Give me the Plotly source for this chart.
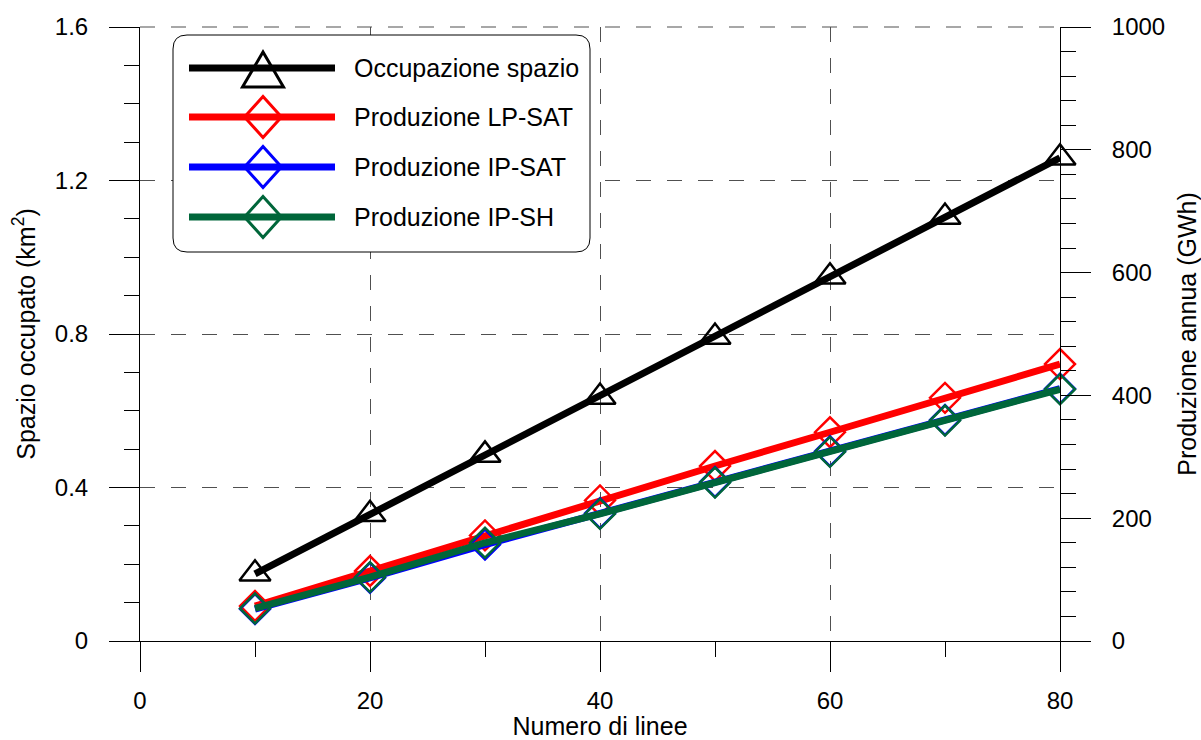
import plotly.graph_objects as go

# ---- data ----
linee = [10, 20, 30, 40, 50, 60, 70, 80]
occupazione_km2 = [0.175, 0.330, 0.485, 0.636, 0.792, 0.949, 1.105, 1.259]
prod_lp_sat = [57, 114, 172, 229, 285, 340, 396, 451]
prod_ip_sat = [52, 103, 157, 208, 259, 309, 360, 411]
prod_ip_sh = [53, 104, 160, 207, 258, 308, 359, 410]

names = ["Occupazione spazio", "Produzione LP-SAT", "Produzione IP-SAT", "Produzione IP-SH"]
colors = ["#000000", "#FF0000", "#0000FF", "#00663A"]

FONT = "Liberation Sans, Arial, sans-serif"
W, H = 1201, 740
L, R, T, B = 140, 1060, 27, 641
GRID_COLOR, GRID_WIDTH, GRID_DASH = "#505050", 1.2, "15px,16px"


def px(x):
    return (x - L) / (R - L)


def py(y):
    return (B - y) / (B - T)


fig = go.Figure()

fig.add_trace(go.Scatter(
    x=linee, y=occupazione_km2, name=names[0], mode="lines+markers",
    line=dict(color=colors[0], width=7),
    marker=dict(symbol="triangle-up-open", size=27, color=colors[0], line=dict(width=2.5)),
    cliponaxis=False, yaxis="y"))

for vals, nm, col in [(prod_lp_sat, names[1], colors[1]),
                      (prod_ip_sat, names[2], colors[2]),
                      (prod_ip_sh, names[3], colors[3])]:
    fig.add_trace(go.Scatter(
        x=linee, y=vals, name=nm, mode="lines+markers",
        line=dict(color=col, width=7),
        marker=dict(symbol="diamond-open", size=23, color=col, line=dict(width=2.5)),
        cliponaxis=False, yaxis="y2"))

grid = dict(showgrid=True, gridcolor=GRID_COLOR, gridwidth=GRID_WIDTH, griddash=GRID_DASH)
tickstyle = dict(ticks="outside", ticklen=30, tickwidth=1, tickcolor="#000000",
                 showline=True, linecolor="#000000", linewidth=1, zeroline=False,
                 tickfont=dict(family=FONT, size=24, color="#000000"))

fig.update_layout(
    width=W, height=H,
    margin=dict(l=L, r=W - R, t=T, b=H - B, autoexpand=False),
    paper_bgcolor="white", plot_bgcolor="white",
    showlegend=False,
    font=dict(family=FONT, color="#000000"),
    xaxis=dict(range=[0, 80], tickvals=[0, 20, 40, 60, 80],
               minor=dict(dtick=10, ticklen=15, ticks="outside", tickcolor="#000000", showgrid=False),
               title=dict(text="Numero di linee", font=dict(family=FONT, size=25), standoff=2),
               ticklabelstandoff=8,
               **grid, **tickstyle),
    yaxis=dict(range=[0, 1.6], tickvals=[0, 0.4, 0.8, 1.2, 1.6], ticktext=["0", "0.4", "0.8", "1.2", "1.6"],
               minor=dict(dtick=0.1, ticklen=15, ticks="outside", tickcolor="#000000", showgrid=False),
               title=dict(text="Spazio occupato (km<sup>2</sup>)", font=dict(family=FONT, size=25), standoff=12),
               ticklabelstandoff=16,
               **grid, **tickstyle),
    yaxis2=dict(range=[0, 1000], tickvals=[0, 200, 400, 600, 800, 1000], overlaying="y", side="right",
                minor=dict(dtick=40, ticklen=15, ticks="outside", tickcolor="#000000", showgrid=False),
                title=dict(text="Produzione annua (GWh)", font=dict(family=FONT, size=25), standoff=14),
                ticklabelstandoff=16, showgrid=False,
                **tickstyle),
)

# top grid line at the upper edge of the plot area (plotly skips the edge gridline)
fig.add_shape(type="line", xref="paper", yref="paper", x0=0, x1=1, y0=1, y1=1,
              line=dict(color=GRID_COLOR, width=GRID_WIDTH, dash=GRID_DASH), layer="below")

# ---- custom legend (rounded box) ----
x0, x1, y0, y1, r = 173, 590, 35, 252, 14
path = (f"M {px(x0 + r)},{py(y0)} L {px(x1 - r)},{py(y0)} Q {px(x1)},{py(y0)} {px(x1)},{py(y0 + r)} "
        f"L {px(x1)},{py(y1 - r)} Q {px(x1)},{py(y1)} {px(x1 - r)},{py(y1)} "
        f"L {px(x0 + r)},{py(y1)} Q {px(x0)},{py(y1)} {px(x0)},{py(y1 - r)} "
        f"L {px(x0)},{py(y0 + r)} Q {px(x0)},{py(y0)} {px(x0 + r)},{py(y0)} Z")
fig.add_shape(type="path", path=path, xref="paper", yref="paper",
              line=dict(color="#000000", width=1), fillcolor="white", layer="above")

rows = [68, 117, 167, 217]
mx = 263
for i, (nm, col, yr) in enumerate(zip(names, colors, rows)):
    fig.add_shape(type="line", xref="paper", yref="paper",
                  x0=px(189), x1=px(335), y0=py(yr), y1=py(yr),
                  line=dict(color=col, width=7), layer="above")
    if i == 0:
        mp = (f"M {px(mx)},{py(52)} L {px(mx + 20.5)},{py(87)} L {px(mx - 20.5)},{py(87)} Z")
    else:
        mp = (f"M {px(mx)},{py(yr - 20.5)} L {px(mx + 18.5)},{py(yr)} L {px(mx)},{py(yr + 20.5)} "
              f"L {px(mx - 18.5)},{py(yr)} Z")
    fig.add_shape(type="path", path=mp, xref="paper", yref="paper",
                  line=dict(color=col, width=3), layer="above")
    fig.add_annotation(text=nm, x=px(352), y=py(yr), xref="paper", yref="paper",
                       xanchor="left", yanchor="middle", showarrow=False,
                       font=dict(family=FONT, size=25, color="#000000"))

fig.write_html("out.html")
